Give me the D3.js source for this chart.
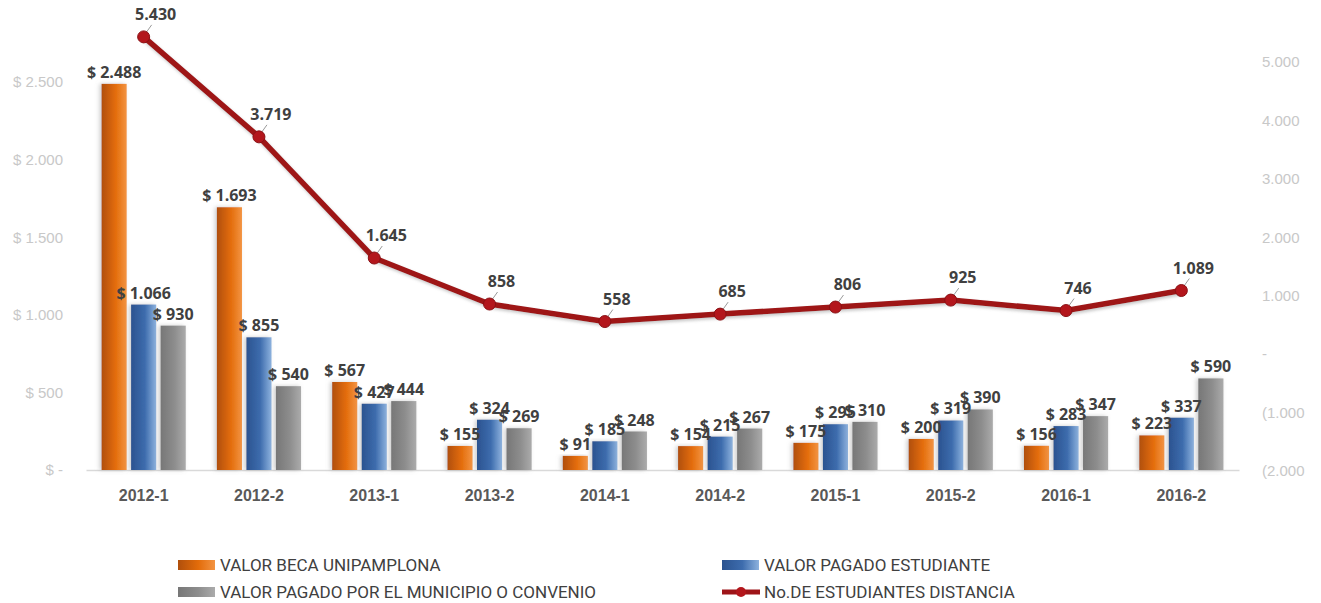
<!DOCTYPE html>
<html>
<head>
<meta charset="utf-8">
<script src="https://cdn.jsdelivr.net/npm/d3@7"></script>
<style>
  body { margin: 0; background: #fff; }
  svg { display: block; font-family: "Open Sans", "Liberation Sans", sans-serif; }
  .axis text { fill: #c8c8c8; font-size: 15px; }
  .xaxis text { fill: #595959; font-size: 16px; font-weight: bold; }
  .lbl { fill: #404040; font-size: 16px; font-weight: bold; }
  .legend text { fill: #404040; font-size: 17px; font-family: "Roboto", sans-serif; }
</style>
</head>
<body>
<svg id="chart" width="1321" height="603"></svg>
<script>
// periods and values (millions of pesos / number of students)
const periods = ["2012-1", "2012-2", "2013-1", "2013-2", "2014-1", "2014-2", "2015-1", "2015-2", "2016-1", "2016-2"];
const becaUnipamplona = [2488, 1693, 567, 155, 91, 154, 175, 200, 156, 223];
const pagadoEstudiante = [1066, 855, 427, 324, 185, 215, 295, 319, 283, 337];
const pagadoMunicipio = [930, 540, 444, 269, 248, 267, 310, 390, 347, 590];
const estudiantesDistancia = [5430, 3719, 1645, 858, 558, 685, 806, 925, 746, 1089];
const leftTicks = [0, 500, 1000, 1500, 2000, 2500];
const rightTicks = [-2000, -1000, 0, 1000, 2000, 3000, 4000, 5000];
const seriesNames = ["VALOR BECA UNIPAMPLONA", "VALOR PAGADO ESTUDIANTE", "VALOR PAGADO POR EL MUNICIPIO O CONVENIO"];
const lineName = "No.DE ESTUDIANTES DISTANCIA";

var svg = d3.select("#chart");
var defs = svg.append("defs");

// horizontal gradients like the excel bars
var grads = [
  { id: "gOrange", stops: ["#b04f0c", "#e36c0a", "#f39443"] },
  { id: "gBlue", stops: ["#2b5390", "#3d6cad", "#8db2de"] },
  { id: "gGray", stops: ["#777777", "#8d8d8d", "#ababab"] }
];
grads.forEach(function (g) {
  var lg = defs.append("linearGradient").attr("id", g.id)
    .attr("x1", "0%").attr("x2", "100%").attr("y1", "0%").attr("y2", "0%");
  lg.append("stop").attr("offset", "0%").attr("stop-color", g.stops[0]);
  lg.append("stop").attr("offset", "55%").attr("stop-color", g.stops[1]);
  lg.append("stop").attr("offset", "100%").attr("stop-color", g.stops[2]);
});
defs.append("filter").attr("id", "shadow").attr("x", "-30%").attr("width", "160%")
  .append("feDropShadow").attr("dx", -2).attr("dy", 0).attr("stdDeviation", 2)
  .attr("flood-color", "#999").attr("flood-opacity", 0.5);
defs.append("filter").attr("id", "lineShadow")
  .append("feDropShadow").attr("dx", 1).attr("dy", 2).attr("stdDeviation", 1.5)
  .attr("flood-color", "#888").attr("flood-opacity", 0.45);

var locale = d3.formatLocale({ decimal: ",", thousands: ".", grouping: [3], currency: ["$ ", ""] });
var fmt = locale.format(",d");
var money = function (d) { return "$ " + fmt(d); };

// scales
var x0 = d3.scaleBand().domain(periods).range([86, 1239]).paddingInner(0.27).paddingOuter(0.135);
var keys = ["beca", "estudiante", "municipio"];
var x1 = d3.scaleBand().domain(keys).range([0, x0.bandwidth()]).paddingInner(0.15).paddingOuter(0);
var yL = d3.scaleLinear().domain([0, 2500]).range([470, 82]);
var yR = d3.scaleLinear().domain([-2000, 5000]).range([471, 62]);
var fills = { beca: "url(#gOrange)", estudiante: "url(#gBlue)", municipio: "url(#gGray)" };

var rows = periods.map(function (p, i) {
  return { period: p, beca: becaUnipamplona[i], estudiante: pagadoEstudiante[i], municipio: pagadoMunicipio[i], n: estudiantesDistancia[i] };
});

// left axis
svg.append("g").attr("class", "axis")
  .attr("transform", "translate(70,0)")
  .call(d3.axisLeft(yL).tickValues(leftTicks).tickSize(0).tickPadding(7)
    .tickFormat(function (d) { return d === 0 ? "$ -" : money(d); }))
  .call(function (g) { g.select(".domain").remove(); });

// right axis
svg.append("g").attr("class", "axis")
  .attr("transform", "translate(1255,0)")
  .call(d3.axisRight(yR).tickValues(rightTicks).tickSize(0).tickPadding(7)
    .tickFormat(function (d) { return d === 0 ? " -" : d < 0 ? "(" + fmt(-d) : fmt(d); }))
  .call(function (g) { g.select(".domain").remove(); });

// x axis
svg.append("g").attr("class", "xaxis")
  .attr("transform", "translate(0,470)")
  .call(d3.axisBottom(x0).tickSize(0).tickPadding(20))
  .call(function (g) { g.select(".domain").attr("stroke", "#d9d9d9").attr("stroke-width", 1.5); });

// bars
var groups = svg.selectAll(".grp").data(rows).enter().append("g")
  .attr("transform", function (d) { return "translate(" + x0(d.period) + ",0)"; });

groups.selectAll("rect").data(function (d) { return keys.map(function (k) { return { key: k, value: d[k] }; }); })
  .enter().append("rect")
  .attr("x", function (d) { return x1(d.key); })
  .attr("y", function (d) { return yL(d.value); })
  .attr("width", x1.bandwidth())
  .attr("height", function (d) { return yL(0) - yL(d.value); })
  .attr("fill", function (d) { return fills[d.key]; })
  .attr("filter", "url(#shadow)");

groups.selectAll("text").data(function (d) { return keys.map(function (k) { return { key: k, value: d[k] }; }); })
  .enter().append("text")
  .attr("class", "lbl")
  .attr("x", function (d) { return x1(d.key) + x1.bandwidth() / 2; })
  .attr("y", function (d) { return yL(d.value) - 6; })
  .attr("text-anchor", "middle")
  .text(function (d) { return money(d.value); });

// line of students
var cx = function (d) { return x0(d.period) + x0.bandwidth() / 2; };
svg.append("path")
  .datum(rows)
  .attr("fill", "none")
  .attr("stroke", "#9e1418")
  .attr("stroke-width", 5.5)
  .attr("stroke-linejoin", "round")
  .attr("filter", "url(#lineShadow)")
  .attr("d", d3.line().x(cx).y(function (d) { return yR(d.n); }));

svg.selectAll(".leader").data(rows).enter().append("line")
  .attr("x1", function (d) { return cx(d) + 3; })
  .attr("y1", function (d) { return yR(d.n) - 5; })
  .attr("x2", function (d) { return cx(d) + 8; })
  .attr("y2", function (d) { return yR(d.n) - 12; })
  .attr("stroke", "#9a9a9a").attr("stroke-width", 1);

svg.selectAll(".dot").data(rows).enter().append("circle")
  .attr("cx", cx)
  .attr("cy", function (d) { return yR(d.n); })
  .attr("r", 6)
  .attr("fill", "#b3161c")
  .attr("stroke", "#8a1014").attr("stroke-width", 1);

svg.selectAll(".nlbl").data(rows).enter().append("text")
  .attr("class", "lbl")
  .attr("x", function (d) { return cx(d) + 12; })
  .attr("y", function (d) { return yR(d.n) - 17; })
  .attr("text-anchor", "middle")
  .text(function (d) { return fmt(d.n); });

// legend
var legend = svg.append("g").attr("class", "legend");
var legendItems = [
  { name: seriesNames[0], fill: fills.beca, x: 178, y: 565 },
  { name: seriesNames[1], fill: fills.estudiante, x: 722, y: 565 },
  { name: seriesNames[2], fill: fills.municipio, x: 178, y: 592 }
];
legendItems.forEach(function (it) {
  legend.append("rect").attr("x", it.x).attr("y", it.y - 5).attr("width", 37).attr("height", 10).attr("fill", it.fill);
  legend.append("text").attr("x", it.x + 42).attr("y", it.y).attr("dy", "0.35em").text(it.name);
});
legend.append("line").attr("x1", 722).attr("x2", 760).attr("y1", 592).attr("y2", 592)
  .attr("stroke", "#9e1418").attr("stroke-width", 5);
legend.append("circle").attr("cx", 741).attr("cy", 592).attr("r", 5).attr("fill", "#b3161c");
legend.append("text").attr("x", 764).attr("y", 592).attr("dy", "0.35em").text(lineName);
</script>
</body>
</html>
